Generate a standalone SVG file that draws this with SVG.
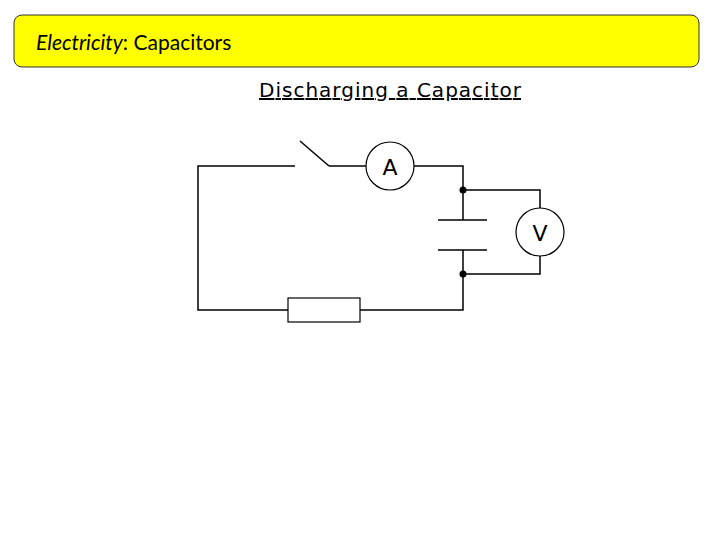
<svg xmlns="http://www.w3.org/2000/svg" width="720" height="540" viewBox="0 0 720 540">
<style>
.w{stroke:#000;stroke-width:1.5;fill:none}
.m{stroke:#000;stroke-width:1.2;fill:#fff}
.t{font-family:"DejaVu Sans",sans-serif;fill:#000}
</style>
<rect width="720" height="540" fill="#fff"/>
<g id="title">
<rect x="14" y="15" width="685" height="52" rx="8" fill="#ffff00" stroke="#333" stroke-width="1"/>
<text x="36" y="50" font-family="Lato,sans-serif" font-size="21" fill="#000"><tspan font-style="italic">Electricity</tspan>: Capacitors</text>
</g>
<g id="subtitle">
<text x="390" y="97" text-anchor="middle" class="t" font-size="20" text-decoration="underline" textLength="262">Discharging a Capacitor</text>
</g>
<g id="connectors">
<polyline class="w" points="295,166 198,166 198,310 288,310"/>
<line class="w" x1="300" y1="141" x2="329" y2="166"/>
<line class="w" x1="329" y1="166" x2="366" y2="166"/>
<polyline class="w" points="414,166 463,166 463,220"/>
<polyline class="w" points="463,250 463,310 360,310"/>
<polyline class="w" points="463,190 540,190 540,208"/>
<polyline class="w" points="463,274 540,274 540,256"/>
<circle cx="463" cy="190" r="3.5" fill="#000"/>
<circle cx="463" cy="274" r="3.5" fill="#000"/>
</g>
<g id="capacitor">
<line class="w" x1="438" y1="220" x2="487" y2="220"/>
<line class="w" x1="438" y1="250" x2="487" y2="250"/>
</g>
<g id="ammeter">
<circle class="m" cx="390" cy="166" r="24"/>
<text x="390" y="175" text-anchor="middle" class="t" font-size="22">A</text>
</g>
<g id="voltmeter">
<circle class="m" cx="540" cy="232" r="24"/>
<text x="540" y="241" text-anchor="middle" class="t" font-size="22">V</text>
</g>
<g id="resistor">
<rect class="m" x="288" y="298" width="72" height="24" stroke-width="1.5"/>
</g>
</svg>
